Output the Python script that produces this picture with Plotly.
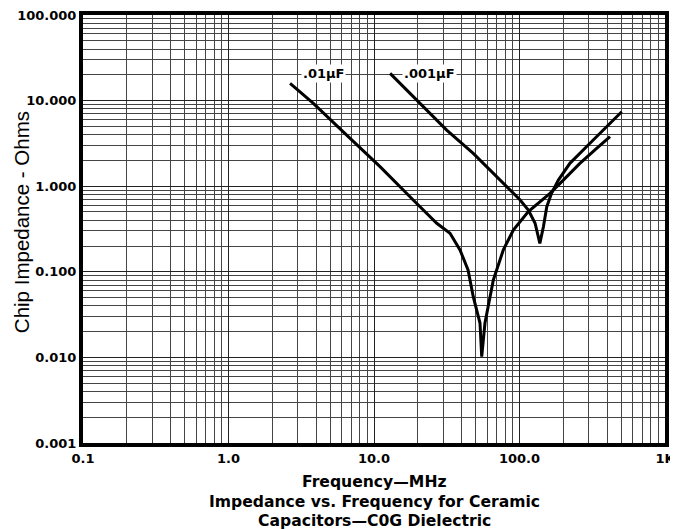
import plotly.graph_objects as go
import numpy as np

# .01 uF curve (frequency MHz, impedance Ohms)
f_01 = [2.65, 3.83, 6.49, 11.0, 18.6, 27.0, 33.3, 39.0, 44.3, 48.1, 53.5, 55.0,
        57.9, 66.1, 77.4, 90.7, 115, 162, 190, 260, 339, 419]
z_01 = [15.9, 9.30, 3.96, 1.69, 0.690, 0.369, 0.282, 0.180, 0.105, 0.0512, 0.0252, 0.0102,
        0.0252, 0.0802, 0.180, 0.308, 0.504, 0.826, 1.08, 1.85, 2.77, 3.79]

# .001 uF curve
f_001 = [12.9, 18.6, 31.6, 48.1, 81.7, 101, 115, 128, 138, 146, 154, 166, 185, 222, 305, 504]
z_001 = [20.8, 11.1, 4.53, 2.42, 0.987, 0.690, 0.527, 0.369, 0.215, 0.336, 0.576, 0.826,
         1.18, 1.85, 3.17, 7.42]

x_ticks = [0.1, 1, 10, 100, 1000]
x_labels = ["0.1", "1.0", "10.0", "100.0", "1K"]
y_ticks = [0.001, 0.01, 0.1, 1, 10, 100]
y_labels = ["0.001", "0.010", "0.100", "1.000", "10.000", "100.000"]

x_minor = [m * 10.0 ** k for k in range(-1, 3) for m in range(2, 10)]
y_minor = [m * 10.0 ** k for k in range(-3, 2) for m in range(2, 10)]

BOLD = "DejaVu Sans"
REG = "Liberation Sans"

fig = go.Figure()
fig.add_trace(go.Scatter(x=f_01, y=z_01, mode="lines", line=dict(color="black", width=3),
                         showlegend=False))
fig.add_trace(go.Scatter(x=f_001, y=z_001, mode="lines", line=dict(color="black", width=3),
                         showlegend=False))

axis_common = dict(
    type="log", automargin=False, ticklabeloverflow="allow",
    showline=True, linecolor="black", linewidth=4, mirror=True,
    showgrid=True, gridcolor="#222222", gridwidth=1,
    ticks="", zeroline=False,
    tickfont=dict(family=BOLD, size=13, color="black", weight="bold"),
)

fig.update_xaxes(**axis_common, range=[-1, 3], tickvals=x_ticks, ticktext=x_labels,
                 minor=dict(tickvals=x_minor, showgrid=True, gridcolor="#444444", gridwidth=0.8))
fig.update_yaxes(**axis_common, range=[-3, 2], tickvals=y_ticks, ticktext=y_labels,
                 minor=dict(tickvals=y_minor, showgrid=True, gridcolor="#444444", gridwidth=0.8))

lab_font = dict(family=BOLD, size=13, color="black", weight="bold")
fig.add_annotation(x=np.log10(4.53), y=np.log10(21.0), text=".01\u00b5F", showarrow=False,
                   font=lab_font, bgcolor="white")
fig.add_annotation(x=np.log10(23.9), y=np.log10(21.0), text=".001\u00b5F", showarrow=False,
                   font=lab_font, bgcolor="white")

bottom_lines = ["Frequency\u2014MHz", "Impedance vs. Frequency for Ceramic",
                "Capacitors\u2014C0G Dielectric"]
bottom_y = [-39, -59, -78]
for txt, dy in zip(bottom_lines, bottom_y):
    fig.add_annotation(xref="paper", yref="paper", x=0.5, y=0, yshift=dy,
                       xanchor="center", yanchor="middle",
                       text=txt, showarrow=False,
                       font=dict(family=BOLD, size=15.6, color="black", weight="bold"))

fig.add_annotation(xref="paper", yref="paper", x=0, y=0.516, xshift=-62,
                   xanchor="center", yanchor="middle",
                   text="Chip Impedance - Ohms", textangle=-90, showarrow=False,
                   font=dict(family=REG, size=20.5, color="black"))

# page body adds an 8px offset, so the figure is sized to fit the window after it
fig.update_layout(
    width=670, height=521,
    margin=dict(l=75, r=13, t=7, b=86),
    plot_bgcolor="white", paper_bgcolor="white",
)

fig.write_html("out.html")
